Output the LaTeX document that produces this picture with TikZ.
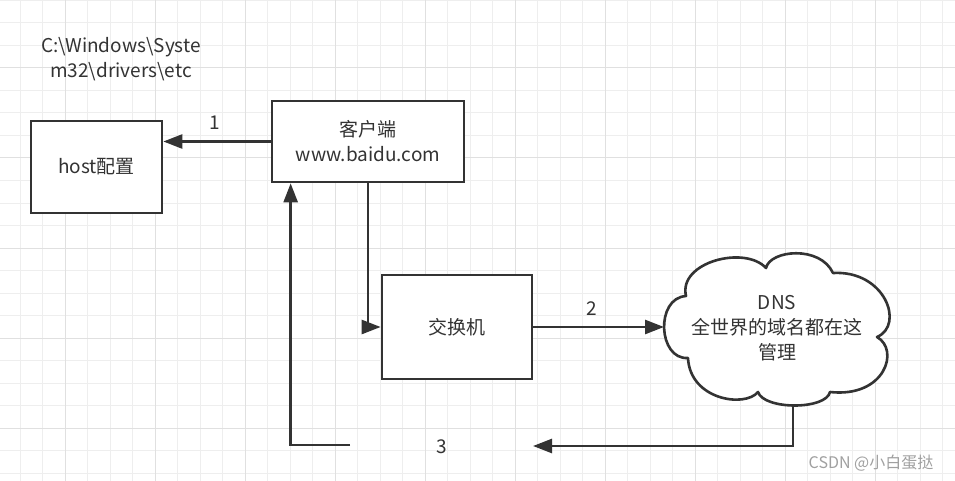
\documentclass[tikz,border=0pt]{standalone}
\usepackage{fontspec}
\setmainfont{Noto Sans CJK SC}
\usetikzlibrary{arrows.meta,calc}
\definecolor{ink}{HTML}{333333}
\definecolor{gridminor}{HTML}{EEEEEE}
\definecolor{gridmajor}{HTML}{E0E0E0}
\definecolor{wmgray}{HTML}{A0A0A0}
\begin{document}
\begin{tikzpicture}[x=1pt,y=-1pt,
  box/.style={draw=ink,line width=2.7pt,fill=white,inner sep=0pt,align=center,text=ink,font=\fontsize{19}{25}\selectfont},
  lbl/.style={text=ink,inner sep=0pt,align=center,font=\fontsize{19}{25}\selectfont},
  conn/.style={draw=ink,line width=2.6pt},
  arr/.style={conn,-{Triangle[length=19pt,width=14pt]}},
  gminor/.style={draw=gridminor,line width=1pt},
  gmajor/.style={draw=gridmajor,line width=1pt},
]
\useasboundingbox (0,0) rectangle (955,481);
\fill[white] (0,0) rectangle (955,481);
% grid
\foreach \i in {0,...,41} { \draw[gminor] ({20+22.5*\i},0) -- ({20+22.5*\i},481); }
\foreach \i in {0,...,21} { \draw[gminor] (0,{0.5+22.5*\i}) -- (955,{0.5+22.5*\i}); }
\foreach \i in {0,...,9} { \draw[gmajor] ({65+90*\i},0) -- ({65+90*\i},481); }
\foreach \i in {0,...,4} { \draw[gmajor] (0,{68+90*\i}) -- (955,{68+90*\i}); }

% boxes
\node[box,minimum width=131pt,minimum height=92pt] (host) at (96.5,167) {host配置};
\node[box,minimum width=192pt,minimum height=81pt] (client) at (368,141.5) {客户端\\www.baidu.com};
\node[box,minimum width=150pt,minimum height=104pt] (sw) at (457,327) {交换机};
\node[lbl] (path) at (121,59) {C:\textbackslash Windows\textbackslash Syste\\m32\textbackslash drivers\textbackslash etc};

% cloud
\draw[conn,fill=white,line join=round]
  (688,358) .. controls (658,360) and (655,298) .. (686,296)
  .. controls (678,262) and (745,245) .. (766,268)
  .. controls (770,250) and (820,245) .. (833,273)
  .. controls (885,270) and (905,325) .. (877,337)
  .. controls (900,350) and (885,398) .. (830,392)
  .. controls (826,410) and (764,410) .. (758,392)
  .. controls (745,408) and (690,400) .. (688,358) -- cycle;
\node[lbl] (dns) at (777,328) {DNS\\全世界的域名都在这\\管理};
\coordinate (cloudleft) at (664,327);
\coordinate (cloudbot) at (793,405);

% connectors
\draw[arr] (client.west) -- (client.west -| host.east);
\draw[arr] (client.south) |- (sw.west);
\draw[arr] (sw.east) -- (cloudleft);
\coordinate (ret3) at (533,446);
\draw[arr] (cloudbot) |- (ret3);
\coordinate (retstart) at (350,445);
\draw[arr] (retstart) -| ([xshift=20pt]client.south west);

% labels
\node[lbl] (l1) at (215,123) {1};
\node[lbl] (l2) at (592,309) {2};
\node[lbl] (l3) at (442,447) {3};
\node[text=wmgray,inner sep=0pt,font=\fontsize{16}{16}\selectfont] (wm) at (871,463) {CSDN @小白蛋挞};
\end{tikzpicture}
\end{document}
